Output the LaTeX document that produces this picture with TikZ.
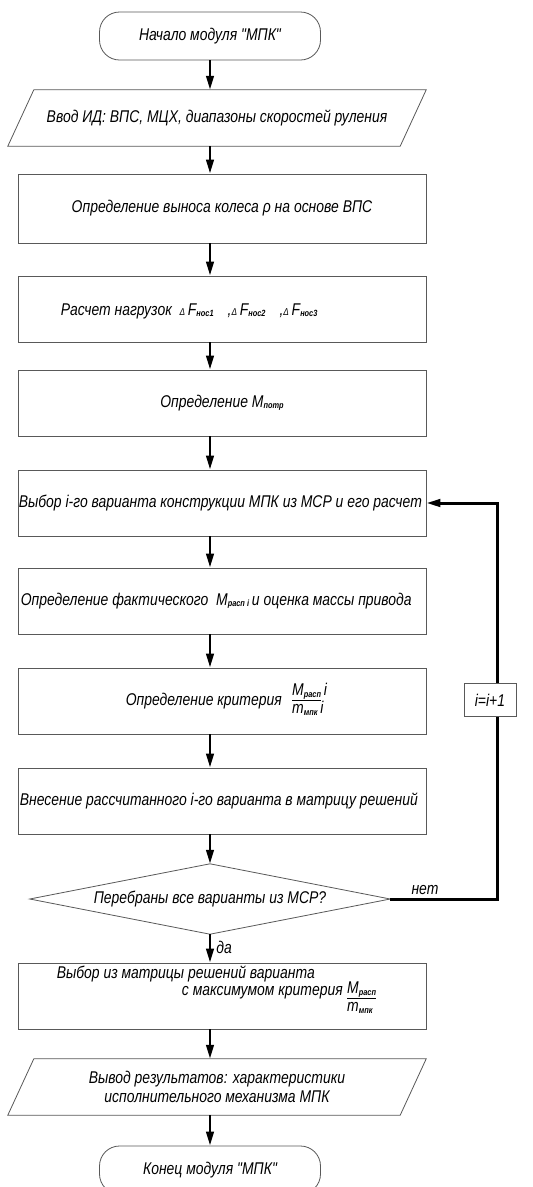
\documentclass[tikz,border=0pt]{standalone}
\usepackage{fontspec}
\newfontfamily\gost[FakeStretch=0.82]{Liberation Sans}
\usetikzlibrary{arrows.meta,calc}

% small index letters set low on the line
\newcommand\ix[1]{\raisebox{-1.5pt}{\fontsize{9}{9}\selectfont\bfseries #1}}
% criterion written as a stacked ratio
\newcommand\ratio[2]{\begin{tabular}[c]{@{}l@{}}#1\\[-1pt]#2\end{tabular}}
\newcommand\dlt{{\fontsize{10}{10}\selectfont Δ}}

\tikzset{
  lbl/.style={font=\gost\itshape\fontsize{17}{19}\selectfont, inner sep=0pt},
  frame/.style={draw=black!65, line width=0.8pt},
  proc/.style={frame, lbl, minimum width=408pt, minimum height=66pt},
  term/.style={frame, lbl, rounded corners=20pt, minimum width=221pt, minimum height=48pt},
  io/.style={lbl, minimum width=418pt, minimum height=56pt, align=center},
  dec/.style={lbl, minimum width=360pt, minimum height=70pt},
  flow/.style={line width=2.6pt, -{Triangle[length=14pt,width=7.5pt]}},
  back/.style={line width=3pt, line join=miter, -{Triangle[length=14pt,width=7.5pt]}},
  note/.style={frame, lbl, fill=white, minimum width=52pt, minimum height=33pt}
}

\begin{document}
\begin{tikzpicture}[x=1pt,y=-1pt]
\clip (0,0) rectangle (533,1187);
\fill[white] (0,0) rectangle (533,1187);

% start
\node[term] (t1) at (210,36) {Начало модуля "МПК"};

% input data
\node[io] (p1) at (217,118) {Ввод ИД: ВПС, МЦХ, диапазоны скоростей руления};
\draw[frame] (p1.south west) -- ($(p1.north west)+(26,0)$) -- (p1.north east)
  -- ($(p1.south east)-(26,0)$) -- cycle;

% processing steps
\node[proc, minimum height=69pt] (b2) at (222,208.5) {Определение выноса колеса ρ на основе ВПС};

\node[proc] (b3) at (222,309) {};
\node[lbl, anchor=west] (x3) at ($(b3.west)+(43,2)$)
  {Расчет нагрузок \ \dlt\,F\ix{нос1}\hspace{14pt},\dlt\,F\ix{нос2}\hspace{14pt},\dlt\,F\ix{нос3}};

\node[proc] (b4) at (222,403) {Определение M\ix{потр}};

\node[proc] (b5) at (222,503) {};
\node[lbl, anchor=west] (x5) at ($(b5.west)+(1,0)$)
  {Выбор i-го варианта конструкции МПК из МСР и его расчет};

\node[proc] (b6) at (222,601) {};
\node[lbl, anchor=west] (x6) at ($(b6.west)+(3,0)$)
  {Определение фактического \ M\ix{расп i}\,и оценка массы привода};

\node[proc] (b7) at (222,701) {};
\node[lbl, anchor=east] (x7) at ($(b7.center)+(60,0)$) {Определение критерия};
\node[lbl, anchor=west] (f7) at ($(x7.east)+(10,0)$)
  {\ratio{\underline{M\ix{расп}}\,i}{m\ix{мпк}\,i}};

\node[proc] (b8) at (222,801) {};
\node[lbl, anchor=west] (x8) at ($(b8.west)+(2,0)$)
  {Внесение рассчитанного i-го варианта в матрицу решений};

% loop check
\node[dec] (d) at (210,899) {Перебраны все варианты из МСР?};
\draw[frame] (d.west) -- (d.north) -- (d.east) -- (d.south) -- cycle;

% choice of the best variant
\node[proc] (b9) at (222,996) {};
\node[lbl, anchor=west] (x9a) at ($(b9.west)+(39,-22)$) {Выбор из матрицы решений варианта};
\node[lbl, anchor=east] (x9b) at ($(b9.center)+(121,-3)$) {с максимумом критерия};
\node[lbl, anchor=west] (f9) at ($(x9b.east)+(4,6)$)
  {\ratio{\underline{M\ix{расп}}}{m\ix{мпк}}};

% output
\node[io] (p2) at (217,1087) {Вывод результатов: характеристики\\исполнительного механизма МПК};
\draw[frame] (p2.south west) -- ($(p2.north west)+(26,0)$) -- (p2.north east)
  -- ($(p2.south east)-(26,0)$) -- cycle;

% end
\node[term] (t2) at (210,1170) {Конец модуля "МПК"};

% main flow
\draw[flow] (t1.south) -- (t1.south |- p1.north);
\draw[flow] (p1.south -| t1) -- (b2.north -| t1);
\draw[flow] (b2.south -| t1) -- (b3.north -| t1);
\draw[flow] (b3.south -| t1) -- (b4.north -| t1);
\draw[flow] (b4.south -| t1) -- (b5.north -| t1);
\draw[flow] (b5.south -| t1) -- (b6.north -| t1);
\draw[flow] (b6.south -| t1) -- (b7.north -| t1);
\draw[flow] (b7.south -| t1) -- (b8.north -| t1);
\draw[flow] (b8.south -| t1) -- (d.north);
\draw[flow] (d.south) -- (b9.north -| t1) node[lbl, pos=0.45, right=5pt] (yes) {да};
\draw[flow] (b9.south -| t1) -- (p2.north -| t1);
\draw[flow] (p2.south -| t1) -- (t2.north);

% loop back
\coordinate (r1) at (497,899);
\draw[back] (d.east) -- (r1) -- (r1 |- b5.east) -- (b5.east);
\node[lbl, anchor=south] (no) at (425,895) {нет};
\node[note] (inc) at (490,700) {i=i+1};
\end{tikzpicture}
\end{document}
